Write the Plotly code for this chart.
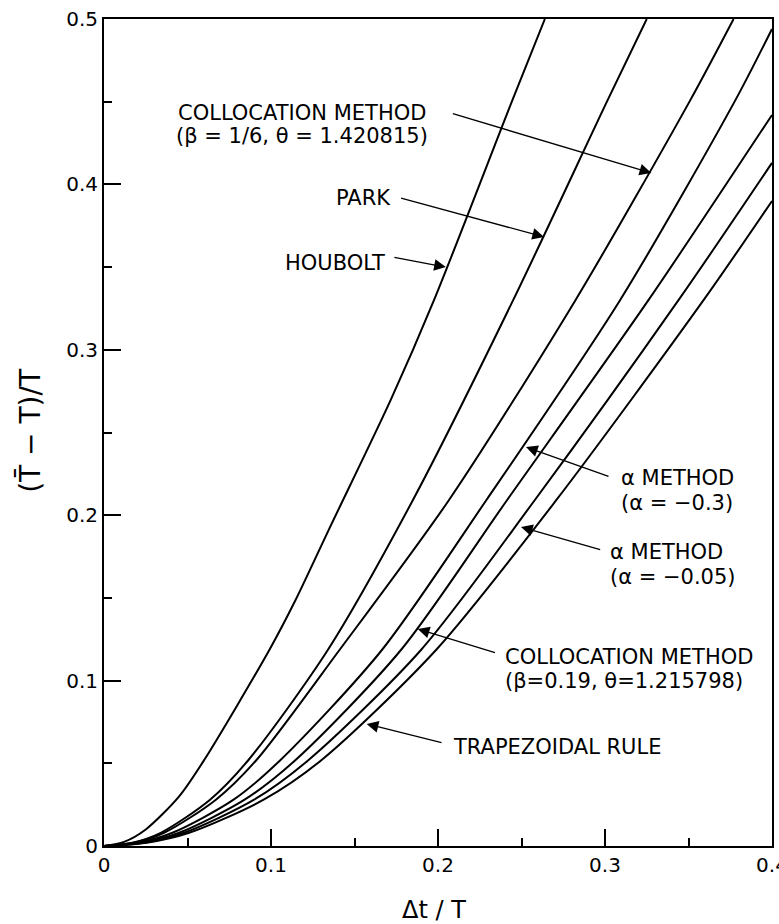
import plotly.graph_objects as go

# period elongation (T_bar - T)/T, per method
houbolt_x = [0, 0.012, 0.025, 0.045, 0.060, 0.099, 0.1147, 0.1345, 0.1717, 0.1976, 0.2445, 0.264]
houbolt_y = [0, 0.0025, 0.010, 0.030, 0.052, 0.1185, 0.1487, 0.191, 0.2697, 0.330, 0.4508, 0.5]

park_x = [0, 0.017, 0.034, 0.0635, 0.0865, 0.134, 0.185, 0.245, 0.3015, 0.325]
park_y = [0, 0.002, 0.008, 0.028, 0.052, 0.1185, 0.2092, 0.330, 0.4508, 0.5]

colloc1_x = [0, 0.018, 0.036, 0.067, 0.0913, 0.141, 0.2066, 0.2823, 0.351, 0.377]
colloc1_y = [0, 0.002, 0.008, 0.028, 0.052, 0.1185, 0.2092, 0.330, 0.4508, 0.5]

alpha03_x = [0, 0.0205, 0.041, 0.0776, 0.1057, 0.1664, 0.229, 0.309, 0.378, 0.4]
alpha03_y = [0, 0.002, 0.008, 0.028, 0.052, 0.1185, 0.2092, 0.330, 0.4508, 0.494]

colloc2_x = [0, 0.0225, 0.045, 0.0842, 0.1147, 0.1778, 0.2414, 0.326, 0.4]
colloc2_y = [0, 0.002, 0.008, 0.028, 0.052, 0.1185, 0.2092, 0.330, 0.442]

alpha005_x = [0, 0.024, 0.048, 0.0899, 0.1225, 0.1898, 0.258, 0.344, 0.4]
alpha005_y = [0, 0.002, 0.008, 0.028, 0.052, 0.1185, 0.2092, 0.330, 0.413]

trap_x = [0, 0.0255, 0.051, 0.0956, 0.1303, 0.1988, 0.2709, 0.359, 0.4]
trap_y = [0, 0.002, 0.008, 0.028, 0.052, 0.1185, 0.2092, 0.330, 0.390]

curves = [
    ("Houbolt", houbolt_x, houbolt_y),
    ("Park", park_x, park_y),
    ("Collocation b=1/6", colloc1_x, colloc1_y),
    ("alpha=-0.3", alpha03_x, alpha03_y),
    ("Collocation b=0.19", colloc2_x, colloc2_y),
    ("alpha=-0.05", alpha005_x, alpha005_y),
    ("Trapezoidal", trap_x, trap_y),
]

FONT = "DejaVu Sans"

fig = go.Figure()
for name, xs, ys in curves:
    fig.add_trace(
        go.Scatter(
            x=xs,
            y=ys,
            mode="lines",
            name=name,
            line=dict(color="black", width=2, shape="spline", smoothing=0.8),
            showlegend=False,
        )
    )

# (text line, left x, y of the line)
labels = [
    ("COLLOCATION METHOD", 0.0432, 0.443),
    ("(β = 1/6, θ = 1.420815)", 0.042, 0.429),
    ("PARK", 0.1375, 0.392),
    ("HOUBOLT", 0.1074, 0.3525),
    ("α METHOD", 0.3085, 0.2225),
    ("(α = −0.3)", 0.3085, 0.2074),
    ("α METHOD", 0.3019, 0.1778),
    ("(α = −0.05)", 0.3019, 0.1626),
    ("COLLOCATION METHOD", 0.2389, 0.1143),
    ("(β=0.19, θ=1.215798)", 0.2389, 0.0998),
    ("TRAPEZOIDAL RULE", 0.2077, 0.0599),
]
for txt, lx, ly in labels:
    fig.add_annotation(
        x=lx, y=ly, text=txt, showarrow=False,
        xanchor="left", yanchor="middle",
        font=dict(family=FONT, size=21, color="black"),
    )

# arrows: tail -> head
arrows = [
    (0.2080, 0.443, 0.3277, 0.4069),
    (0.1770, 0.392, 0.2635, 0.3682),
    (0.1730, 0.356, 0.2047, 0.350),
    (0.3030, 0.2231, 0.2527, 0.2412),
    (0.2980, 0.179, 0.2497, 0.1929),
    (0.2350, 0.1167, 0.1879, 0.1312),
    (0.2030, 0.0623, 0.1573, 0.0738),
]
for tx, ty, hx, hy in arrows:
    fig.add_annotation(
        x=hx, y=hy, ax=tx, ay=ty, axref="x", ayref="y",
        text="", showarrow=True,
        arrowhead=2, arrowsize=1.8, arrowwidth=1.3, arrowcolor="black",
    )

# axis titles
fig.add_annotation(
    xref="paper", yref="paper", x=-0.111, y=0.503,
    xanchor="center", yanchor="middle",
    text="(T\u0304 − T)/T", showarrow=False, textangle=-90,
    font=dict(family=FONT, size=28, color="black"),
)
fig.add_annotation(
    xref="paper", yref="paper", x=0.494, y=-0.077,
    xanchor="center", yanchor="middle",
    text="Δt / T", showarrow=False,
    font=dict(family=FONT, size=24, color="black"),
)

axis_common = dict(
    showline=True, linecolor="black", linewidth=2, mirror=True,
    showgrid=False, zeroline=False, automargin=False,
    ticks="inside", ticklen=17, tickwidth=2, tickcolor="black",
    tickfont=dict(family=FONT, size=20, color="black"),
    minor=dict(ticks="inside", ticklen=8, tickwidth=2, tickcolor="black", dtick=0.05, showgrid=False),
)

fig.update_xaxes(range=[0, 0.4], tickvals=[0, 0.1, 0.2, 0.3, 0.4],
                 ticktext=["0", "0.1", "0.2", "0.3", "0.4"],
                 ticklabeloverflow="allow", **axis_common)
fig.update_yaxes(range=[0, 0.5], tickvals=[0, 0.1, 0.2, 0.3, 0.4, 0.5],
                 ticktext=["0", "0.1", "0.2", "0.3", "0.4", "0.5"], **axis_common)

fig.update_layout(
    width=779,
    height=924,
    margin=dict(l=104, r=7, t=19, b=78),
    plot_bgcolor="white",
    paper_bgcolor="white",
)

# drop the browser's default 8px body margin so the figure fills the window
fig.write_html(
    "out.html",
    config={"displayModeBar": False},
    post_script="document.body.style.margin='0';",
)
